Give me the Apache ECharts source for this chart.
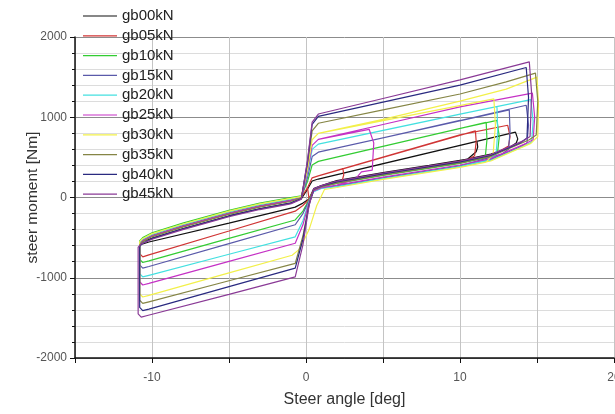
<!DOCTYPE html>
<html>
<head>
<meta charset="utf-8">
<script src="https://cdn.jsdelivr.net/npm/echarts@6/dist/echarts.min.js"></script>
<style>
html,body{margin:0;padding:0;background:#fff;}
#chart{width:615px;height:414px;}
</style>
</head>
<body>
<div id="chart"></div>
<script>
// ---- data ----
const seriesNames = ['gb00kN','gb05kN','gb10kN','gb15kN','gb20kN','gb25kN','gb30kN','gb35kN','gb40kN','gb45kN'];
const xTickLabels = [-10, 0, 10, 20];

const gb00kN = [[-1,-70],[-0.3,-15],[0.1,105],[0.4,205],[0.8,230],[5,422],[10,650],[13.6,815],[13.75,730],[13.65,680],[13.2,620],[12,540],[10,460],[5,310],[2,210],[1,150],[0.5,110],[0.2,-20],[-0.2,-70],[-0.7,-120],[-5,-320],[-10.2,-555],[-10.6,-580],[-10.75,-570],[-10.6,-545],[-10,-510],[-8,-390],[-5,-230],[-3,-140],[-1,-70],
  [-0.3,-15],[0.1,105],[0.4,205],[0.8,230],[11.1,700],[11.15,630],[11.05,570],[10.5,480],[8,400],[5,310],[2,210],[1,150],[0.5,110],[0.2,-20]];
const gb05kN = [[-1,-30],[-0.3,5],[0.1,120],[0.4,245],[0.8,270],[5,503],[10,780],[13.1,900],[13.25,760],[13.15,640],[12.7,592],[12,525],[10,445],[5,295],[2,195],[1,142],[0.5,102],[0.2,-20],[-0.2,-100],[-0.7,-170],[-5,-417],[-10.2,-715],[-10.6,-740],[-10.8,-700],[-10.8,-570],[-10.6,-530],[-10,-470],[-8,-350],[-5,-190],[-3,-100],[-1,-30],
  [-0.3,5],[0.1,120],[0.4,245],[0.8,270],[11,830],[11.05,700],[10.95,520],[10.5,470],[8,385],[5,295],[2,195],[1,142],[0.5,102],[0.2,-20],
  [0.1,120],[0.4,245],[0.8,270],[2.4,360],[2.45,280],[2.35,210],[1,142],[0.5,102],[0.2,-20]];
const gb10kN = [[-1,0],[-0.3,20],[0.1,200],[0.4,405],[0.8,450],[5,637],[10,860],[12.4,960],[12.55,760],[12.45,580],[12,510],[10,425],[5,275],[2,175],[1,133],[0.5,92],[0.2,-30],[-0.2,-170],[-0.7,-280],[-5,-510],[-10.2,-790],[-10.6,-810],[-10.8,-770],[-10.8,-540],[-10.6,-500],[-10,-440],[-8,-320],[-5,-160],[-3,-70],[-1,0],
  [-0.3,20],[0.1,200],[0.4,405],[0.8,450],[11.7,936],[11.75,720],[11.65,520],[11.2,480],[8,365],[5,275],[2,175],[1,133],[0.5,92],[0.2,-30]];
const gb15kN = [[-1,-40],[-0.3,0],[0.1,250],[0.4,510],[0.8,565],[5,745],[10,960],[14.3,1150],[14.45,900],[14.35,680],[13.9,629],[12,475],[10,395],[5,245],[2,145],[1,118],[0.5,78],[0.2,-40],[-0.2,-200],[-0.7,-340],[-5,-574],[-10.2,-860],[-10.6,-880],[-10.8,-840],[-10.8,-580],[-10.6,-540],[-10,-480],[-8,-360],[-5,-200],[-3,-110],[-1,-40],
  [-0.3,0],[0.1,250],[0.4,510],[0.8,565],[13.2,1090],[13.25,820],[13.15,600],[12.7,540],[10,395],[5,245],[2,145],[1,118],[0.5,78],[0.2,-40]];
const gb20kN = [[-1,-20],[-0.3,10],[0.1,300],[0.4,600],[0.8,665],[5,836],[10,1040],[14.6,1220],[14.75,950],[14.65,690],[14.2,645],[12,465],[10,385],[5,235],[2,135],[1,112],[0.5,72],[0.2,-50],[-0.2,-290],[-0.7,-490],[-5,-707],[-10.2,-970],[-10.6,-990],[-10.8,-950],[-10.8,-560],[-10.6,-520],[-10,-460],[-8,-340],[-5,-180],[-3,-90],[-1,-20],
  [-0.3,10],[0.1,300],[0.4,600],[0.8,665],[12.4,1134],[12.45,830],[12.35,540],[11.9,480],[10,385],[5,235],[2,135],[1,112],[0.5,72],[0.2,-50]];
const gb25kN = [[-1,-40],[-0.3,0],[0.1,330],[0.4,650],[0.8,725],[5,910],[10,1130],[14.7,1300],[14.85,1000],[14.75,720],[14.3,675],[12,485],[10,405],[5,255],[2,155],[1,122],[0.5,82],[0.2,-60],[-0.2,-340],[-0.7,-570],[-5,-796],[-10.2,-1070],[-10.6,-1090],[-10.8,-1050],[-10.8,-580],[-10.6,-540],[-10,-480],[-8,-360],[-5,-200],[-3,-110],[-1,-40],
  [-0.3,0],[0.1,330],[0.4,650],[0.8,725],[4.1,850],[4.4,680],[4.3,340],[3.6,320],[3.2,230],[2,155],[1,122],[0.5,82],[0.2,-60]];
const gb30kN = [[-1,-10],[-0.3,15],[0.1,360],[0.4,720],[0.8,800],[5,973],[10,1200],[13,1350],[15,1500],[15.1,1150],[15.05,760],[14.6,675],[12,455],[10,375],[5,225],[2,125],[1.2,100],[0.7,-100],[0.2,-400],[-0.4,-640],[-0.9,-720],[-5,-940],[-10.2,-1220],[-10.6,-1240],[-10.8,-1200],[-10.8,-550],[-10.6,-510],[-10,-450],[-8,-330],[-5,-170],[-3,-80],[-1,-10],
  [-0.3,15],[0.1,360],[0.4,720],[0.8,800],[12.2,1230],[12.3,900],[12.15,540],[11.7,440],[10,375],[5,225],[2,125],[1.2,100],[0.7,-100]];
const gb35kN = [[-1,-50],[-0.3,-5],[0.1,420],[0.4,830],[0.8,925],[5,1092],[10,1290],[13,1440],[14.9,1550],[15.05,1200],[14.95,780],[14.5,720],[12,510],[10,430],[5,280],[2,180],[1,135],[0.5,95],[0.2,-80],[-0.2,-480],[-0.7,-820],[-5,-1037],[-10.2,-1300],[-10.6,-1320],[-10.8,-1280],[-10.8,-590],[-10.6,-550],[-10,-490],[-8,-370],[-5,-210],[-3,-120],[-1,-50]];
const gb40kN = [[-1,-70],[-0.3,-15],[0.1,450],[0.4,910],[0.8,1010],[5,1188],[10,1400],[14.3,1620],[14.45,1250],[14.35,740],[13.9,679],[12,525],[10,445],[5,295],[2,195],[1,143],[0.5,103],[0.2,-90],[-0.2,-520],[-0.7,-880],[-5,-1110],[-10.2,-1390],[-10.6,-1410],[-10.8,-1370],[-10.8,-610],[-10.6,-570],[-10,-510],[-8,-390],[-5,-230],[-3,-140],[-1,-70]];
const gb45kN = [[-1,-80],[-0.3,-20],[0.1,470],[0.4,940],[0.8,1040],[5,1234],[10,1465],[14.5,1690],[14.65,1300],[14.55,760],[14.1,705],[12,535],[10,455],[5,305],[2,205],[1,148],[0.5,108],[0.2,-100],[-0.2,-590],[-0.7,-990],[-5,-1207],[-10.3,-1470],[-10.7,-1490],[-10.9,-1450],[-10.9,-620],[-10.7,-580],[-10,-520],[-8,-400],[-5,-240],[-3,-150],[-1,-80]];

const seriesData = [gb00kN, gb05kN, gb10kN, gb15kN, gb20kN, gb25kN, gb30kN, gb35kN, gb40kN, gb45kN];

// ---- styles ----
const colors = ['#111111','#d03535','#33cc33','#5a5aaa','#44e0e0','#c531c5','#f2f04a','#858545','#2a2a80','#8a3a96'];
const FONT = 'Liberation Sans, Arial, sans-serif';

const chart = echarts.init(document.getElementById('chart'), null, {renderer:'canvas'});
chart.setOption({
  animation: false,
  backgroundColor: '#ffffff',
  color: colors,
  grid: {left: 75, right: 1, top: 37, bottom: 56, containLabel: false, outerBoundsMode: 'none'},
  legend: {
    show: true,
    orient: 'vertical',
    left: 83,
    top: 8,
    icon: 'rect',
    itemWidth: 34,
    itemHeight: 1.2,
    itemGap: 3.8,
    itemStyle: {borderWidth: 0},
    textStyle: {fontFamily: FONT, fontSize: 15, color: '#222', lineHeight: 16},
    data: seriesNames,
    backgroundColor: 'transparent',
    padding: 0
  },
  xAxis: {
    type: 'value',
    min: -15,
    max: 20,
    interval: 5,
    name: 'Steer angle [deg]',
    nameLocation: 'middle',
    nameGap: 34,
    nameMoveOverlap: false,
    nameTextStyle: {fontFamily: FONT, fontSize: 16, color: '#333'},
    axisLine: {show: true, onZero: false, lineStyle: {color: '#111', width: 1.5}},
    axisTick: {show: true, length: 5, lineStyle: {color: '#111'}},
    axisLabel: {
      fontFamily: FONT, fontSize: 12, color: '#555', margin: 14,
      formatter: function (v) { return xTickLabels.indexOf(v) >= 0 ? String(v) : ''; }
    },
    splitLine: {show: true, lineStyle: {color: '#c4c4c4', width: 1}}
  },
  yAxis: {
    type: 'value',
    min: -2000,
    max: 2000,
    interval: 1000,
    name: 'steer moment [Nm]',
    nameLocation: 'middle',
    nameGap: 34,
    nameMoveOverlap: false,
    nameRotate: 90,
    nameTextStyle: {fontFamily: FONT, fontSize: 15.5, color: '#333'},
    axisLine: {show: true, onZero: false, lineStyle: {color: '#111', width: 1.5}},
    axisTick: {show: true, length: 5, lineStyle: {color: '#111'}},
    minorTick: {show: true, splitNumber: 5, length: 3, lineStyle: {color: '#111'}},
    axisLabel: {fontFamily: FONT, fontSize: 12, color: '#555', margin: 8,
      formatter: function (v) { return String(v); }},
    splitLine: {show: true, lineStyle: {color: '#8c8c8c', width: 1}},
    minorSplitLine: {show: true, lineStyle: {color: '#dcdcdc', width: 1}}
  },
  series: seriesNames.map(function (n, i) {
    return {
      name: n,
      type: 'line',
      data: seriesData[i],
      showSymbol: false,
      symbol: 'none',
      smooth: false,
      clip: true,
      lineStyle: {width: 1.2, color: colors[i]},
      itemStyle: {color: colors[i]},
      emphasis: {disabled: true},
      z: 2 + i
    };
  })
});
</script>
</body>
</html>
